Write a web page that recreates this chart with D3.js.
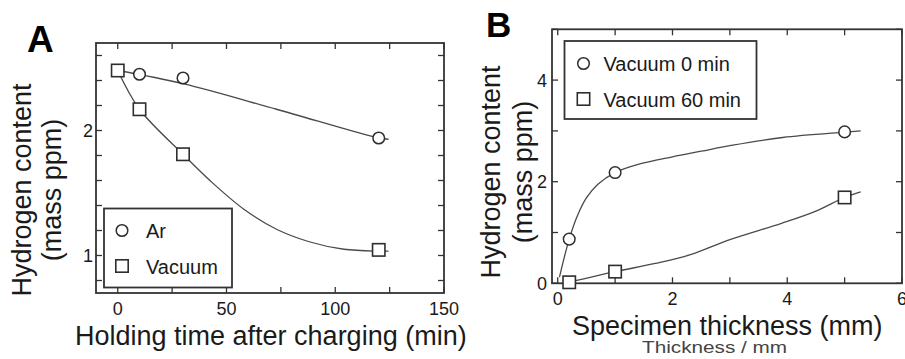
<!DOCTYPE html>
<html><head><meta charset="utf-8">
<script src="https://cdn.jsdelivr.net/npm/d3@7"></script>
<style>body{margin:0;background:#fff}svg{display:block;font-family:"Liberation Sans",Arial,sans-serif}</style>
</head><body>
<svg id="c" width="905" height="359"></svg>
<script>
// ---- Panel A data ----
const arTime = [0, 10, 30, 120];
const arH = [2.48, 2.45, 2.42, 1.94];
const vacTime = [0, 10, 30, 120];
const vacH = [2.48, 2.17, 1.81, 1.045];
const arFitX = [0, 30, 73, 120, 124.5];
const arFitY = [2.48, 2.375, 2.17, 1.94, 1.93];
const vacFitX = [0, 10, 30, 43, 58, 73, 88, 104, 120, 124.5];
const vacFitY = [2.48, 2.17, 1.81, 1.59, 1.37, 1.21, 1.11, 1.05, 1.035, 1.035];
const aXTicks = [0, 25, 50, 75, 100, 125, 150];
const aXLabels = [0, 50, 100, 150];
const aYTicks = [0.8, 1.0, 1.2, 1.4, 1.6, 1.8, 2.0, 2.2, 2.4, 2.6];
const aYLabels = [1, 2];
// ---- Panel B data ----
const thick = [0.2, 1, 5];
const vac0H = [0.87, 2.18, 2.98];
const vac60H = [0.02, 0.23, 1.69];
const v0FitX = [0.03, 0.2, 0.35, 0.5, 0.7, 1.0, 1.4, 2.0, 2.5, 3.05, 3.92, 5.0, 5.28];
const v0FitY = [0.12, 0.87, 1.35, 1.68, 1.95, 2.18, 2.34, 2.49, 2.6, 2.72, 2.87, 2.975, 3.0];
const v60FitX = [0.2, 1.0, 1.7, 2.3, 3.0, 3.9, 4.5, 5.0, 5.28];
const v60FitY = [0.02, 0.23, 0.39, 0.56, 0.86, 1.18, 1.42, 1.69, 1.80];
const bXTicks = [0, 1, 2, 3, 4, 5, 6];
const bXLabels = [0, 2, 4, 6];
const bYTicks = [0, 1, 2, 3, 4, 5];
const bYLabels = [0, 2, 4];

const svg = d3.select("#c");
const TXT = "#1a1a1a", FR = "#333", LN = "#4a4a4a", MK = "#2e2e2e";

function panel(o) {
  const g = svg.append("g");
  const x = o.x, y = o.y;
  const [x0, x1] = x.range(), [y0, y1] = y.range(); // y0 bottom
  const line = d3.line().x(d => x(d[0])).y(d => y(d[1])).curve(d3.curveCatmullRom.alpha(0.5));
  const tl = 6;
  o.xTicks.forEach(v => {
    g.append("line").attr("x1", x(v)).attr("x2", x(v)).attr("y1", y0).attr("y2", y0 - tl).attr("stroke", FR).attr("stroke-width", 1.3);
    g.append("line").attr("x1", x(v)).attr("x2", x(v)).attr("y1", y1).attr("y2", y1 + tl).attr("stroke", FR).attr("stroke-width", 1.3);
  });
  o.yTicks.forEach(v => {
    g.append("line").attr("x1", x0).attr("x2", x0 + tl).attr("y1", y(v)).attr("y2", y(v)).attr("stroke", FR).attr("stroke-width", 1.3);
    g.append("line").attr("x1", x1).attr("x2", x1 - tl).attr("y1", y(v)).attr("y2", y(v)).attr("stroke", FR).attr("stroke-width", 1.3);
  });
  g.append("rect").attr("x", x0).attr("y", y1).attr("width", x1 - x0).attr("height", y0 - y1)
    .attr("fill", "none").attr("stroke", FR).attr("stroke-width", 1.8);
  o.xLabels.forEach(v => g.append("text").attr("x", x(v)).attr("y", o.xLabY).attr("text-anchor", "middle")
    .attr("font-size", 18).attr("fill", TXT).text(v));
  o.yLabels.forEach(v => g.append("text").attr("x", o.yLabX).attr("y", y(v) + 6.5).attr("text-anchor", "end")
    .attr("font-size", 18).attr("fill", TXT).text(v));
  o.fits.forEach(f => g.append("path").attr("d", line(d3.zip(f[0], f[1]))).attr("fill", "none")
    .attr("stroke", LN).attr("stroke-width", 1.3));
  o.series.forEach(s => {
    d3.zip(s.x, s.y).forEach(p => marker(g, s.shape, x(p[0]), y(p[1])));
  });
  const L = o.legend;
  g.append("rect").attr("x", L.x).attr("y", L.y).attr("width", L.w).attr("height", L.h)
    .attr("fill", "#fff").attr("stroke", FR).attr("stroke-width", 1.8);
  L.items.forEach((it, i) => {
    const cy = L.y + L.first + i * L.step;
    marker(g, it.shape, L.x + L.mx, cy);
    g.append("text").attr("x", L.x + L.tx).attr("y", cy + 7.5).attr("font-size", L.fs).attr("fill", TXT).text(it.label);
  });
  return g;
}
function marker(g, shape, cx, cy) {
  if (shape === "circle") g.append("circle").attr("cx", cx).attr("cy", cy).attr("r", 5.8)
    .attr("fill", "#fff").attr("stroke", MK).attr("stroke-width", 1.5);
  else g.append("rect").attr("x", cx - 6.2).attr("y", cy - 6.2).attr("width", 12.4).attr("height", 12.4)
    .attr("fill", "#fff").attr("stroke", MK).attr("stroke-width", 1.6);
}

// Panel A
const xA = d3.scaleLinear().domain([-10, 150]).range([96, 444]);
const yA = d3.scaleLinear().domain([0.7, 2.7]).range([293, 43]);
panel({
  x: xA, y: yA, xTicks: aXTicks, yTicks: aYTicks, xLabels: aXLabels, yLabels: aYLabels,
  xLabY: 315, yLabX: 93,
  fits: [[arFitX, arFitY], [vacFitX, vacFitY]],
  series: [{shape: "circle", x: arTime, y: arH}, {shape: "square", x: vacTime, y: vacH}],
  legend: {x: 104, y: 208.5, w: 128, h: 79, first: 22, step: 35.5, mx: 18, tx: 42, fs: 20,
    items: [{shape: "circle", label: "Ar"}, {shape: "square", label: "Vacuum"}]}
});
// Panel B
const xB = d3.scaleLinear().domain([-0.1, 6]).range([552, 902]);
const yB = d3.scaleLinear().domain([0, 5]).range([283.3, 29.3]);
panel({
  x: xB, y: yB, xTicks: bXTicks, yTicks: bYTicks, xLabels: bXLabels, yLabels: bYLabels,
  xLabY: 305, yLabX: 547,
  fits: [[v0FitX, v0FitY], [v60FitX, v60FitY]],
  series: [{shape: "circle", x: thick, y: vac0H}, {shape: "square", x: thick, y: vac60H}],
  legend: {x: 564.5, y: 41, w: 192, h: 78, first: 22.5, step: 35.5, mx: 19, tx: 39, fs: 20,
    items: [{shape: "circle", label: "Vacuum 0 min"}, {shape: "square", label: "Vacuum 60 min"}]}
});

svg.append("text").attr("x", 27).attr("y", 52).attr("font-size", 37).attr("font-weight", "bold").attr("fill", "#000").text("A");
svg.append("text").attr("x", 486).attr("y", 37).attr("font-size", 35).attr("font-weight", "bold").attr("fill", "#000").text("B");

svg.append("text").attr("x", 75).attr("y", 345).attr("font-size", 27).attr("fill", TXT).text("Holding time after charging (min)");
svg.append("text").attr("x", 572).attr("y", 335).attr("font-size", 27).attr("fill", TXT).text("Specimen thickness (mm)");
svg.append("text").attr("x", 642).attr("y", 353).attr("font-size", 16).attr("fill", "#444")
  .attr("textLength", 145).attr("lengthAdjust", "spacingAndGlyphs").text("Thickness / mm");

function ylab(cx1, cx2, cy) {
  svg.append("text").attr("transform", `translate(${cx1},${cy}) rotate(-90)`).attr("text-anchor", "middle")
    .attr("font-size", 27).attr("fill", TXT).text("Hydrogen content");
  svg.append("text").attr("transform", `translate(${cx2},${cy}) rotate(-90)`).attr("text-anchor", "middle")
    .attr("font-size", 27).attr("fill", TXT).text("(mass ppm)");
}
ylab(31, 61, 190);
ylab(500, 532, 172);
</script>
</body></html>
